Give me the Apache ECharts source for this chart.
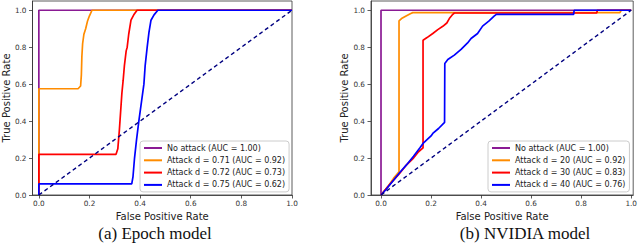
<!DOCTYPE html>
<html><head><meta charset="utf-8">
<script src="https://cdn.jsdelivr.net/npm/echarts@6/dist/echarts.min.js"></script>
<style>html,body{margin:0;padding:0;background:#fff}#c{width:640px;height:252px}</style>
</head><body><div id="c"></div>
<script>
// ---- data ----
const tickValues = [0, 0.2, 0.4, 0.6, 0.8, 1.0];
const diagonal = [[0, 0], [1, 1]];

const epochNames = ['No attack (AUC = 1.00)', 'Attack d = 0.71 (AUC = 0.92)', 'Attack d = 0.72 (AUC = 0.73)', 'Attack d = 0.75 (AUC = 0.62)'];
const epochNo = [[0,0],[0,1],[1,1]];
const epochA071 = [[0,0],[0,0.575],[0.155,0.575],[0.165,0.59],[0.168,0.65],[0.17,0.75],[0.173,0.82],[0.178,0.87],[0.185,0.9],[0.192,0.94],[0.2,0.97],[0.21,1.0],[1,1]];
const epochA072 = [[0,0],[0,0.22],[0.305,0.22],[0.312,0.25],[0.318,0.35],[0.323,0.45],[0.328,0.55],[0.333,0.62],[0.338,0.7],[0.345,0.78],[0.349,0.8],[0.355,0.87],[0.364,0.946],[0.375,0.975],[0.388,1.0],[1,1]];
const epochA075 = [[0,0],[0,0.06],[0.367,0.06],[0.372,0.1],[0.378,0.2],[0.386,0.3],[0.395,0.4],[0.405,0.5],[0.415,0.6],[0.42,0.7],[0.428,0.8],[0.435,0.88],[0.443,0.946],[0.455,0.975],[0.47,1.0],[1,1]];

const nvNames = ['No attack (AUC = 1.00) ', 'Attack d = 20 (AUC = 0.92)', 'Attack d = 30 (AUC = 0.83)', 'Attack d = 40 (AUC = 0.76)'];
const nvNo = [[0,0],[0,1],[1,1]];
const nv20 = [[0,0],[0.03,0.05],[0.05,0.09],[0.072,0.125],[0.072,0.942],[0.082,0.955],[0.102,0.97],[0.119,0.982],[0.127,0.987],[0.955,0.987],[0.96,1],[1,1]];
const nv30 = [[0,0],[0.03,0.05],[0.07,0.11],[0.1,0.16],[0.13,0.2],[0.15,0.234],[0.168,0.255],[0.168,0.838],[0.184,0.852],[0.207,0.874],[0.227,0.895],[0.247,0.913],[0.263,0.931],[0.273,0.955],[0.287,0.978],[0.293,0.985],[0.862,0.985],[0.865,1],[1,1]];
const nv40 = [[0,0],[0.02,0.03],[0.05,0.08],[0.075,0.122],[0.1,0.16],[0.13,0.21],[0.155,0.254],[0.168,0.279],[0.2,0.32],[0.207,0.333],[0.23,0.36],[0.254,0.393],[0.255,0.712],[0.267,0.733],[0.293,0.757],[0.32,0.788],[0.346,0.823],[0.36,0.847],[0.386,0.874],[0.406,0.914],[0.432,0.942],[0.452,0.968],[0.461,0.978],[0.77,0.978],[0.772,1],[1,1]];

const captions = ['(a) Epoch model', '(b) NVIDIA model'];
const colors = ['#8a1a94', '#ff8c00', '#ff0000', '#0000ff'];

// ---- chart ----
const chart = echarts.init(document.getElementById('c'), null, {renderer: 'svg'});
const font = 'DejaVu Sans';
function xAx(gi, min, max) {
  return {
    gridIndex: gi, type: 'value', min: min, max: max,
    name: 'False Positive Rate', nameLocation: 'middle', nameGap: 14,
    nameTextStyle: {fontFamily: font, fontSize: 10, color: '#222'},
    axisLine: {show: true, onZero: false, lineStyle: {color: '#333', width: 0.8}},
    axisTick: {show: true, length: 3.5, customValues: tickValues, lineStyle: {color: '#333', width: 0.8}},
    axisLabel: {customValues: tickValues, margin: 5, fontFamily: font, fontSize: 7.3, color: '#333', formatter: v => v.toFixed(1)},
    splitLine: {show: false}
  };
}
function yAx(gi, gap) {
  return {
    gridIndex: gi, type: 'value', min: 0, max: 1.05,
    name: 'True Positive Rate', nameLocation: 'middle', nameGap: gap,
    nameTextStyle: {fontFamily: font, fontSize: 10, color: '#222'},
    axisLine: {show: true, onZero: false, lineStyle: {color: '#333', width: 0.8}},
    axisTick: {show: true, length: 3.5, customValues: tickValues, lineStyle: {color: '#333', width: 0.8}},
    axisLabel: {customValues: tickValues, margin: 6, fontFamily: font, fontSize: 7.3, color: '#333', formatter: v => v.toFixed(1)},
    splitLine: {show: false}
  };
}
function ser(name, data, color, gi) {
  return {name: name, type: 'line', xAxisIndex: gi, yAxisIndex: gi, data: data, showSymbol: false, symbol: 'none',
    animation: false, lineStyle: {color: color, width: 1.7}, itemStyle: {color: color}, z: 3};
}
function diag(gi) {
  return {type: 'line', xAxisIndex: gi, yAxisIndex: gi, data: diagonal, showSymbol: false, symbol: 'none', animation: false,
    lineStyle: {color: '#000080', width: 1.4, type: [4, 3]}, z: 4, silent: true};
}
function leg(left, names) {
  return {
    orient: 'vertical', left: left, top: 141, data: names, itemWidth: 18, itemHeight: 8, itemGap: 4.3,
    itemStyle: {opacity: 0}, lineStyle: {width: 2},
    padding: [3, 4, 3, 3], borderColor: '#cccccc', borderWidth: 1, borderRadius: 3, backgroundColor: 'rgba(255,255,255,0.85)',
    textStyle: {fontFamily: font, fontSize: 8, color: '#222'}, selectedMode: false
  };
}
const epochData = [epochNo, epochA071, epochA072, epochA075];
const nvData = [nvNo, nv20, nv30, nv40];
const series = [];
epochData.forEach((d, i) => series.push(ser(epochNames[i], d, colors[i], 0)));
series.push(diag(0));
nvData.forEach((d, i) => series.push(ser(nvNames[i], d, colors[i], 1)));
series.push(diag(1));

chart.setOption({
  animation: false,
  grid: [
    {left: 31, top: 1, width: 261, height: 194, show: true, borderColor: '#333', borderWidth: 0.8, backgroundColor: 'transparent'},
    {left: 371, top: 1, width: 264, height: 194, show: true, borderColor: '#333', borderWidth: 0.8, backgroundColor: 'transparent'}
  ],
  xAxis: [xAx(0, -0.025, 1.0), xAx(1, -0.04, 1.008)],
  yAxis: [yAx(0, 18), yAx(1, 17)],
  legend: [leg(140, epochNames), leg(488, nvNames)],
  series: series,
  graphic: [
    {type: 'text', x: 155, y: 233, style: {text: captions[0], font: '17px "Liberation Serif"', fill: '#111', align: 'center', verticalAlign: 'middle'}},
    {type: 'text', x: 525, y: 233, style: {text: captions[1], font: '17px "Liberation Serif"', fill: '#111', align: 'center', verticalAlign: 'middle'}}
  ]
});
</script></body></html>
